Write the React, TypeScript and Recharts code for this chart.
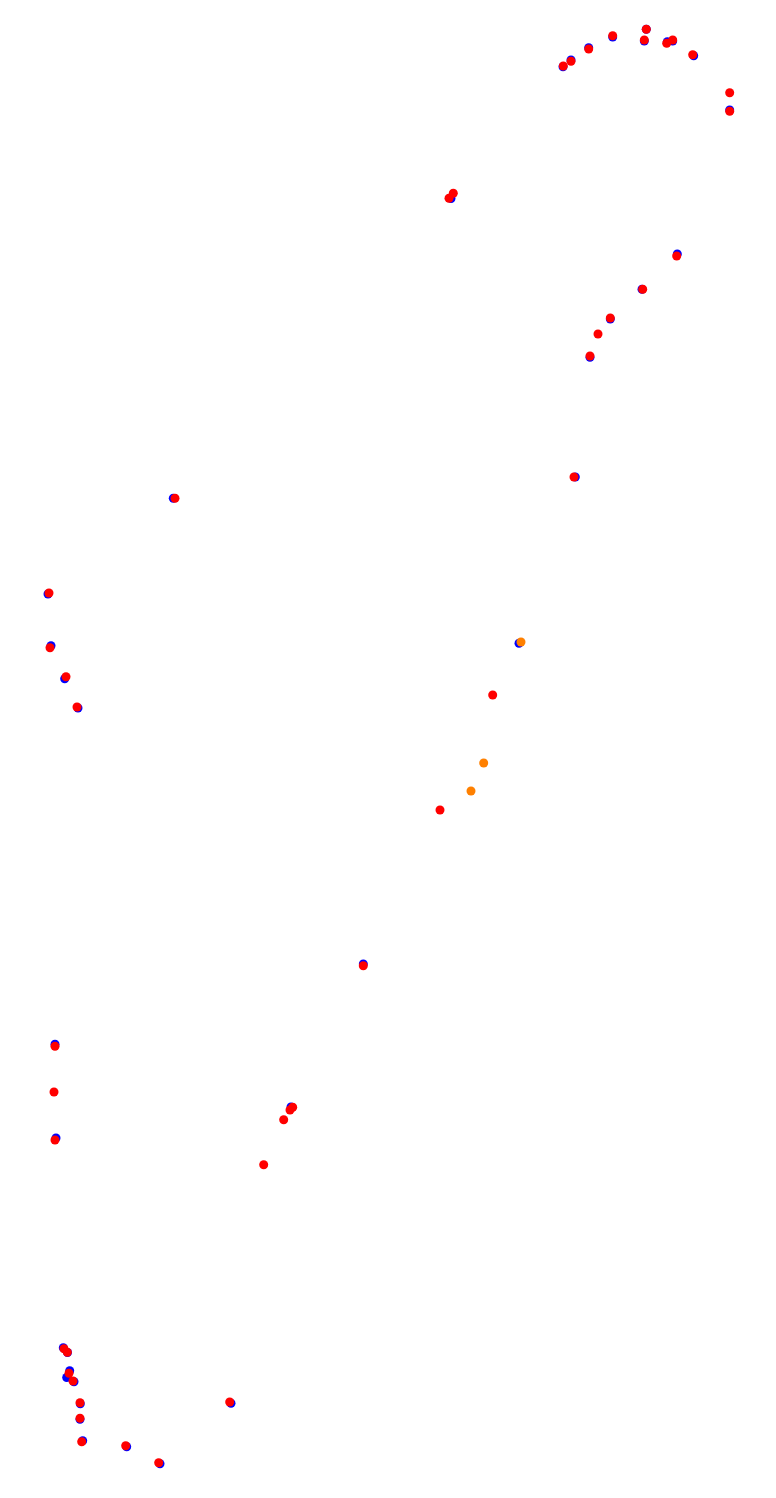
import React from "react";
import { ScatterChart, Scatter, XAxis, YAxis } from "recharts";

const bluePoints = [
  { x: 563, y: 66.7 }, { x: 571, y: 60 }, { x: 588.7, y: 47.7 }, { x: 612.7, y: 37 },
  { x: 646.3, y: 29.3 }, { x: 644.3, y: 41 }, { x: 667.3, y: 41.7 }, { x: 672.7, y: 41 },
  { x: 693.7, y: 55.7 }, { x: 729.7, y: 110 }, { x: 451, y: 198.5 },
  { x: 677.3, y: 254 }, { x: 642, y: 289.3 }, { x: 610.3, y: 319 }, { x: 590, y: 357.3 },
  { x: 173.3, y: 498.3 }, { x: 575.3, y: 477 },
  { x: 48, y: 594 }, { x: 51, y: 645.7 }, { x: 64.7, y: 678.7 }, { x: 78, y: 708 },
  { x: 519, y: 643.3 }, { x: 363.3, y: 964 },
  { x: 55, y: 1044.3 }, { x: 56, y: 1138 }, { x: 291, y: 1107 },
  { x: 231, y: 1403.3 }, { x: 63.3, y: 1347.7 }, { x: 67.5, y: 1352.5 },
  { x: 69.7, y: 1370.7 }, { x: 66.7, y: 1377.5 }, { x: 74, y: 1381.7 },
  { x: 80.3, y: 1403.7 }, { x: 80, y: 1419.3 }, { x: 82.7, y: 1440.7 },
  { x: 126.7, y: 1446.7 }, { x: 160, y: 1463.7 },
];

const orangePoints = [
  { x: 521, y: 642 }, { x: 483.7, y: 763 }, { x: 471, y: 791 },
];

const redPoints = [
  { x: 563.3, y: 66 }, { x: 571, y: 61.3 }, { x: 588.7, y: 49 }, { x: 612.7, y: 35.7 },
  { x: 646.3, y: 29.3 }, { x: 644.3, y: 40 }, { x: 666.7, y: 43.3 }, { x: 672.7, y: 40 },
  { x: 692.7, y: 54.7 }, { x: 729.7, y: 92.7 }, { x: 729.7, y: 111.3 },
  { x: 449, y: 198.3 }, { x: 453.3, y: 193.3 },
  { x: 676.7, y: 256 }, { x: 642.7, y: 289.3 }, { x: 610.3, y: 318 }, { x: 598, y: 334 },
  { x: 590, y: 356 },
  { x: 175, y: 498.3 }, { x: 574, y: 477 },
  { x: 49, y: 593 }, { x: 50, y: 647.7 }, { x: 66, y: 676.7 }, { x: 77, y: 707 },
  { x: 492.7, y: 695 }, { x: 440, y: 810 },
  { x: 363.3, y: 965.7 },
  { x: 55, y: 1046.3 }, { x: 54, y: 1092 }, { x: 55, y: 1140 },
  { x: 292.7, y: 1107.3 }, { x: 290, y: 1110 }, { x: 283.7, y: 1119.7 }, { x: 263.7, y: 1164.7 },
  { x: 229.7, y: 1402 },
  { x: 64, y: 1348.7 }, { x: 67.3, y: 1352.3 }, { x: 69, y: 1373.3 }, { x: 73, y: 1381 },
  { x: 80, y: 1402.7 }, { x: 80, y: 1418.3 }, { x: 81.7, y: 1441.7 },
  { x: 125.7, y: 1445.7 }, { x: 158.7, y: 1462.7 },
];

const W = 776;
const H = 1498;

const dot = (color: string) => (props: any) => (
  <circle cx={props.cx} cy={props.cy} r={4.5} fill={color} />
);

export default function App() {
  return (
    <div style={{ position: "fixed", left: 0, top: 0, width: W, height: H, background: "#fff" }}>
      <ScatterChart width={W} height={H} margin={{ top: 0, right: 0, bottom: 0, left: 0 }}>
        <XAxis type="number" dataKey="x" domain={[0, W]} hide />
        <YAxis type="number" dataKey="y" domain={[0, H]} reversed hide />
        <Scatter data={bluePoints} fill="#0000ff" shape={dot("#0000ff")} isAnimationActive={false} />
        <Scatter data={orangePoints} fill="#ff8000" shape={dot("#ff8000")} isAnimationActive={false} />
        <Scatter data={redPoints} fill="#ff0000" shape={dot("#ff0000")} isAnimationActive={false} />
      </ScatterChart>
    </div>
  );
}
